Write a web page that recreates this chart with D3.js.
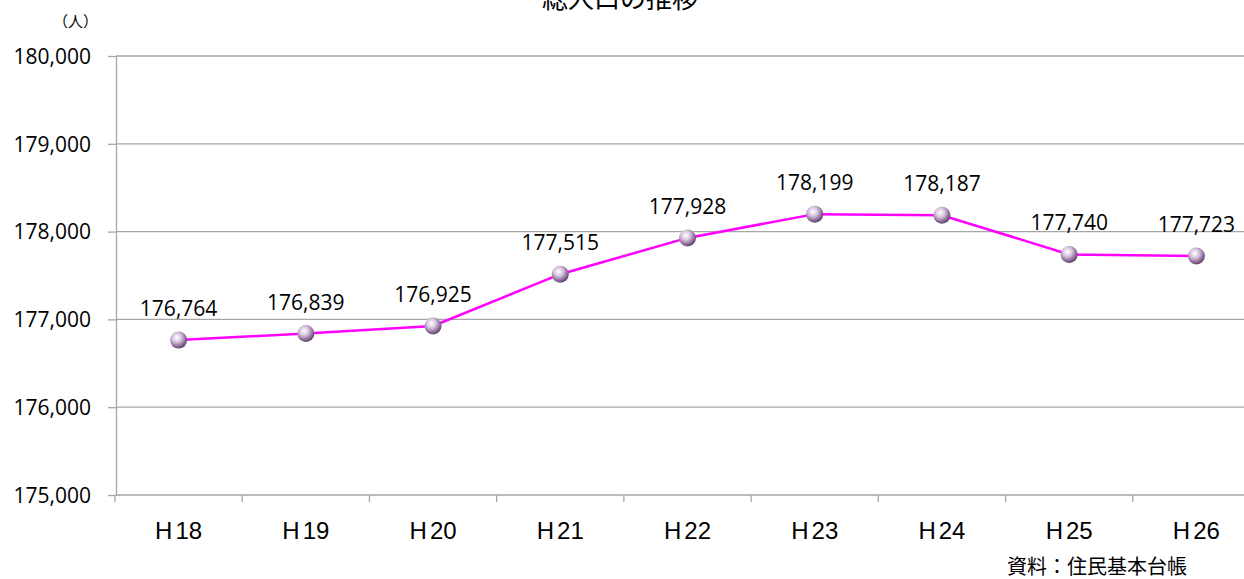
<!DOCTYPE html>
<html>
<head>
<meta charset="utf-8">
<title>総人口の推移</title>
<script src="https://cdnjs.cloudflare.com/ajax/libs/d3/7.8.5/d3.min.js"></script>
<style>
body { margin: 0; background: #fff; }
svg { display: block; }
.grid line { stroke: #a6a6a6; stroke-width: 1.3; }
.axis path, .axis line { stroke: #a6a6a6; stroke-width: 1.3; }
.ylab { font: 21px "Open Sans", "Liberation Sans", sans-serif; fill: #000; }
.xlab { font: 24px "Liberation Sans", Arial, sans-serif; fill: #000; }
.dlab { font: 21px "Open Sans", "Liberation Sans", sans-serif; fill: #000; }
.jp { font-family: "Noto Sans CJK JP", sans-serif; fill: #000; }
</style>
</head>
<body>
<svg id="chart"></svg>
<script>
var years = ["H18", "H19", "H20", "H21", "H22", "H23", "H24", "H25", "H26"];
var population = [176764, 176839, 176925, 177515, 177928, 178199, 178187, 177740, 177723];
var yTicks = [175000, 176000, 177000, 178000, 179000, 180000];

var W = 1244, H = 579;
var svg = d3.select("#chart").attr("width", W).attr("height", H);

var defs = svg.append("defs");
var grad = defs.append("radialGradient")
  .attr("id", "ball").attr("cx", "40%").attr("cy", "35%").attr("r", "65%");
grad.append("stop").attr("offset", "0%").attr("stop-color", "#ffffff");
grad.append("stop").attr("offset", "40%").attr("stop-color", "#d9c6e0");
grad.append("stop").attr("offset", "80%").attr("stop-color", "#8a6a96");
grad.append("stop").attr("offset", "100%").attr("stop-color", "#5f4668");

var x = d3.scaleBand().domain(years).range([115, 1260]);
var y = d3.scaleLinear().domain([175000, 180000]).range([495, 56]);

// title (mostly cut off at top, as in the original)
svg.append("text").attr("class", "jp")
  .attr("x", 620).attr("y", 8)
  .attr("text-anchor", "middle")
  .style("font-size", "26px")
  .text("総人口の推移");

svg.append("text").attr("class", "jp")
  .attr("x", 98).attr("y", 27)
  .attr("text-anchor", "end")
  .style("font-size", "15px")
  .text("（人）");

// gridlines
svg.append("g").attr("class", "grid")
  .selectAll("line").data(yTicks.slice(1)).enter().append("line")
  .attr("x1", 116).attr("x2", W)
  .attr("y1", function(d) { return y(d); })
  .attr("y2", function(d) { return y(d); });

// y axis
var yAxis = svg.append("g").attr("class", "axis")
  .attr("transform", "translate(116,0)")
  .call(d3.axisLeft(y).tickValues(yTicks).tickSize(8).tickSizeOuter(0)
    .tickFormat(d3.format(",")));
yAxis.selectAll("text").attr("class", "ylab").attr("x", -25).attr("dy", "0.35em");

// x axis with ticks at band boundaries
var xg = svg.append("g").attr("class", "axis");
xg.append("line").attr("x1", 116).attr("x2", W)
  .attr("y1", y(175000)).attr("y2", y(175000));
xg.selectAll(".xt").data(years).enter().append("line")
  .attr("x1", function(d) { return x(d); })
  .attr("x2", function(d) { return x(d); })
  .attr("y1", y(175000)).attr("y2", y(175000) + 7);
var xl = xg.selectAll(".xl").data(years).enter().append("text")
  .attr("class", "xlab")
  .attr("x", function(d) { return x(d) + x.bandwidth() / 2; })
  .attr("y", 539)
  .attr("text-anchor", "middle");
xl.append("tspan").text(function(d) { return d.slice(0, 1); });
xl.append("tspan").attr("dx", 3).text(function(d) { return d.slice(1); });

// line
var line = d3.line()
  .x(function(d, i) { return x(years[i]) + x.bandwidth() / 2; })
  .y(function(d) { return y(d); });

svg.append("path").datum(population)
  .attr("d", line)
  .attr("fill", "none")
  .attr("stroke", "#ff00ff")
  .attr("stroke-width", 2.5);

svg.selectAll(".pt").data(population).enter().append("circle")
  .attr("cx", function(d, i) { return x(years[i]) + x.bandwidth() / 2; })
  .attr("cy", function(d) { return y(d); })
  .attr("r", 8.5)
  .attr("fill", "url(#ball)");

svg.selectAll(".dl").data(population).enter().append("text")
  .attr("class", "dlab")
  .attr("x", function(d, i) { return x(years[i]) + x.bandwidth() / 2; })
  .attr("y", function(d) { return y(d) - 24; })
  .attr("text-anchor", "middle")
  .text(d3.format(","));

svg.append("text").attr("class", "jp")
  .attr("x", 1007).attr("y", 574)
  .style("font-size", "20px")
  .text("資料：住民基本台帳");
</script>
</body>
</html>
